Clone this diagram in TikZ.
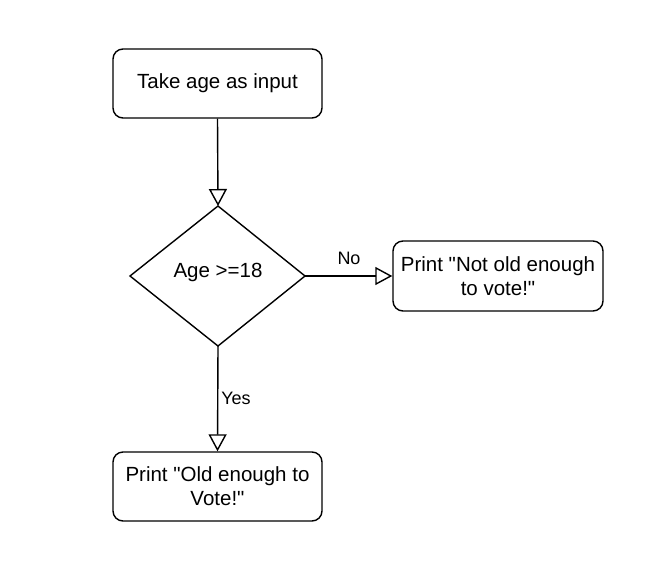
\documentclass[tikz,border=0pt]{standalone}
\usepackage{fontspec}
\setmainfont{Liberation Sans}[Ligatures=TeXOff]
\usetikzlibrary{shapes.geometric,arrows.meta}
\begin{document}
\begin{tikzpicture}[x=1pt,y=-1pt,
  box/.style={draw,line width=1.4pt,rounded corners=10pt,minimum width=209pt,minimum height=69pt,align=center,font=\fontsize{20.5}{24}\selectfont,inner sep=0pt},
  conn/.style={line width=1.4pt,-{Triangle[open,length=17pt,width=18pt,line width=1.4pt]}},
  lbl/.style={font=\fontsize{18}{22}\selectfont}]
\useasboundingbox (0,0) rectangle (663,570);
\fill[white] (0,0) rectangle (663,570);
\node[box] (start) at (217.5,83.5) {Take age as input};
\coordinate (dt) at (218,206);
\coordinate (db) at (218,346);
\coordinate (dl) at (130,276);
\coordinate (dr) at (305,276);
\draw[line width=1.4pt,line join=miter] (dt) -- (dr) -- (db) -- (dl) -- cycle;
\node[font=\fontsize{20.5}{24}\selectfont] (dtext) at (218,272) {Age >=18};
\node[box,minimum width=210pt,minimum height=70pt] (no) at (498,276) {Print "Not old enough\\to vote!"};
\node[box] (yes) at (217.5,486.5) {Print "Old enough to\\Vote!"};
\draw[conn] (start.south) -- (dt);
\draw[conn] (dr) -- (no.west);
\draw[conn] (db) -- (yes.north);
\node[lbl] (nolbl) at (349,258) {No};
\node[lbl] (yeslbl) at (236,398) {Yes};
\end{tikzpicture}
\end{document}
